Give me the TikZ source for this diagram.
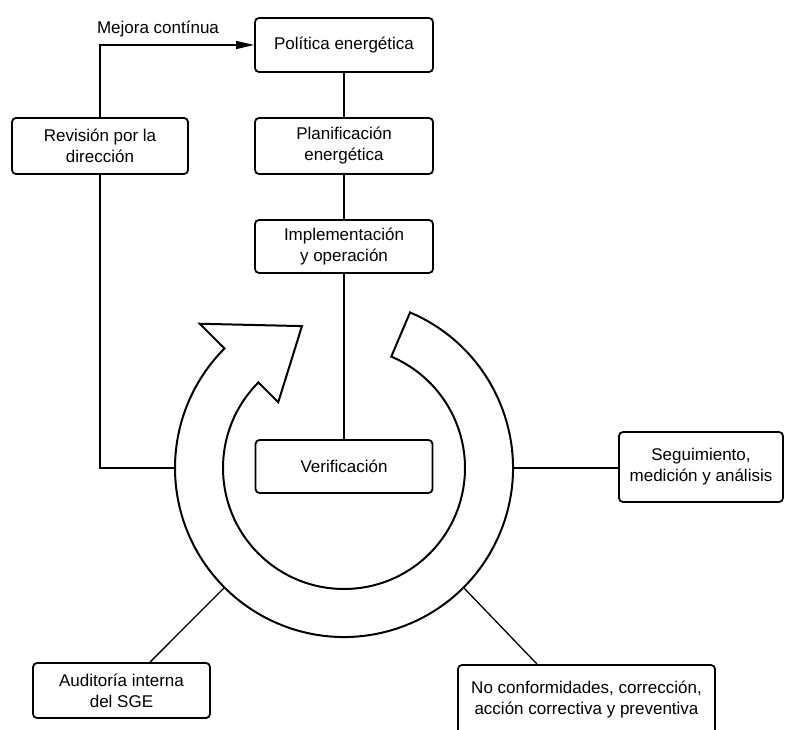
\documentclass[tikz,border=0pt]{standalone}
\usepackage{fontspec}
\setmainfont{Liberation Sans}
\usetikzlibrary{arrows.meta,calc}
\begin{document}
\begin{tikzpicture}[x=1pt,y=-1pt,
  box/.style={draw, line width=1.8pt, rounded corners=4pt, align=center, inner sep=0pt, font=\fontsize{17}{21}\selectfont},
  lbl/.style={font=\fontsize{17}{21}\selectfont, inner sep=0pt},
  conn/.style={line width=1.3pt},
  ring/.style={line width=2pt, line join=miter}]
\useasboundingbox (0,0) rectangle (787,730);
% boxes
\node[box, minimum width=178pt, minimum height=54pt] (pol) at (344,45) {Política energética};
\node[box, minimum width=178pt, minimum height=56pt] (plan) at (344,146) {Planificación\\energética};
\node[box, minimum width=178pt, minimum height=53pt] (impl) at (344,246.5) {Implementación\\y operación};
\node[box, minimum width=177pt, minimum height=53pt] (verif) at (344,466.5) {Verificación};
\node[box, minimum width=176pt, minimum height=56pt] (rev) at (100,146) {Revisión por la\\dirección};
\node[box, minimum width=164pt, minimum height=70pt] (seg) at (701,467) {Seguimiento,\\medición y análisis};
\node[box, minimum width=177pt, minimum height=55pt] (aud) at (121.5,690.5) {Auditoría interna\\del SGE};
\node[box, minimum width=257pt, minimum height=84pt, text depth=18pt] (noconf) at (586.5,707) {No conformidades, corrección,\\acción correctiva y preventiva};
\node[lbl] (mej) at (158,29) {Mejora contínua};
% ring arrow
\begin{scope}[shift={(344,468)}, x=1pt, y=1pt]
  \draw[ring] (67:169pt) arc[start angle=67, end angle=-225, radius=169pt]
     -- (135:204pt) -- (106.5:148pt) -- (135:93pt) -- (135:121pt)
     arc[start angle=-225, end angle=67, radius=121pt] -- cycle;
  \coordinate (ringL) at (180:169pt);
  \coordinate (ringR) at (0:169pt);
  \coordinate (ringBL) at (-135:169pt);
  \coordinate (ringBR) at (-45:169pt);
\end{scope}
% connectors
\draw[conn, -{Triangle[length=18pt,width=8pt]}] (rev.north) |- (pol.west);
\draw[conn] (pol.south) -- (plan.north);
\draw[conn] (plan.south) -- (impl.north);
\draw[conn] (impl.south) -- (verif.north);
\draw[conn] (rev.south) |- (ringL);
\draw[conn] (ringR) -- (ringR -| seg.west);
\draw[conn] (ringBL) -- ($(aud.north)+(28.5,0)$);
\draw[conn] (ringBR) -- ($(noconf.north)+(-49.5,0)$);
\end{tikzpicture}
\end{document}
